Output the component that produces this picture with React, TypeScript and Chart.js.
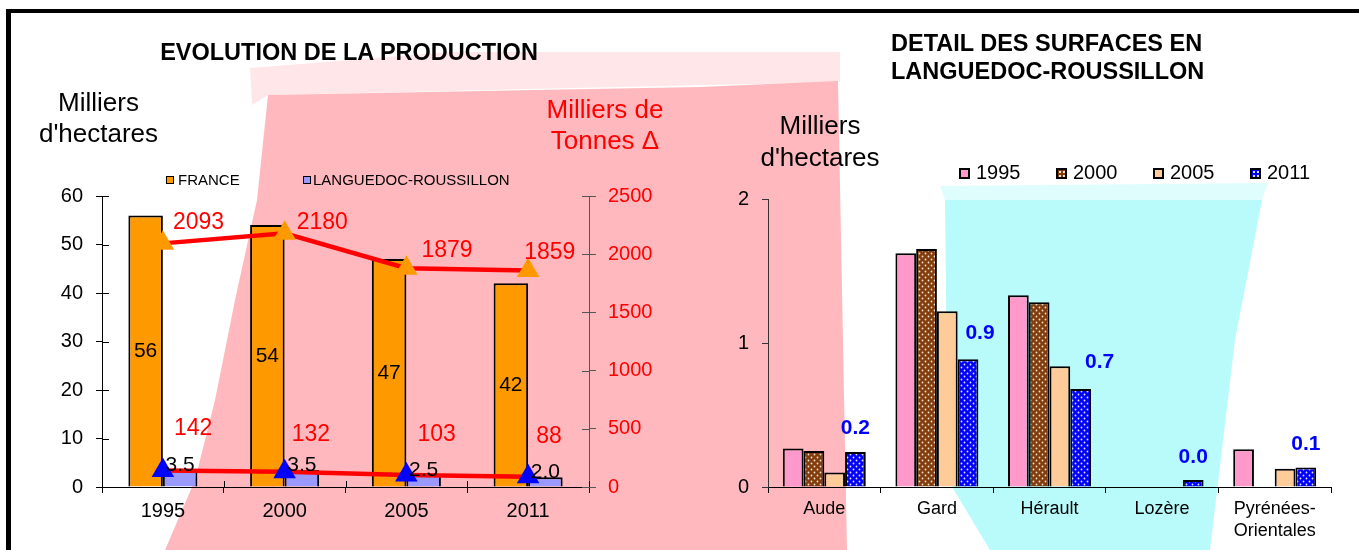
import React, { useEffect, useRef } from 'react';
import { Chart, registerables } from 'chart.js';

Chart.register(...registerables);

// ---------- Data ----------
const YEARS = ['1995', '2000', '2005', '2011'];
const FRANCE_SURFACE = [56, 54, 47, 42];
const LR_SURFACE = [3.5, 3.5, 2.5, 2.0];
const FRANCE_PRODUCTION = [2093, 2180, 1879, 1859];
const LR_PRODUCTION = [142, 132, 103, 88];
const SURFACE_TICKS = [0, 10, 20, 30, 40, 50, 60];
const PRODUCTION_TICKS = [0, 500, 1000, 1500, 2000, 2500];

const DEPARTEMENTS = ['Aude', 'Gard', 'Hérault', 'Lozère', ['Pyrénées-', 'Orientales']];
const DEPT_YEARS = ['1995', '2000', '2005', '2011'];
const DEPT_1995 = [0.267, 1.623, 1.332, null, 0.262];
const DEPT_2000 = [0.25, 1.652, 1.283, null, null];
const DEPT_2005 = [0.1, 1.22, 0.838, null, 0.126];
const DEPT_2011 = [0.243, 0.887, 0.68, 0.049, 0.136];
const DEPT_TICKS = [0, 1, 2];

// ---------- Styles ----------
const FONT = '"Liberation Sans", Arial, Helvetica, sans-serif';
const ORANGE = '#FF9900';
const LAVENDER = '#9999FF';
const RED = '#FF0000';
const BLUE = '#0000FF';
const PINK = '#FF99CC';
const BROWN = '#833C0B';
const PEACH = '#FFCC99';

const FR_LABEL_OFFSETS = [[10, -21], [12, -11], [15, -18], [-4, -18]];
const LR_LABEL_OFFSETS = [[11, -42], [7, -37], [11, -40], [8, -40]];
const DEPT_LABEL_OFFSETS = [[0, -24], [12, -26], [19, -27], [0, -23], [0, -23]];

function dotPattern(ctx: CanvasRenderingContext2D, bg: string, dot: string) {
  const c = document.createElement('canvas');
  c.width = 6;
  c.height = 6;
  const g = c.getContext('2d')!;
  g.fillStyle = bg;
  g.fillRect(0, 0, 6, 6);
  g.fillStyle = dot;
  g.beginPath();
  g.arc(1.5, 1.5, 0.9, 0, Math.PI * 2);
  g.arc(4.5, 4.5, 0.9, 0, Math.PI * 2);
  g.fill();
  return ctx.createPattern(c, 'repeat')!;
}

const innerTicksPlugin = {
  id: 'innerTicks',
  beforeDatasetsDraw(chart: any) {
    const { ctx, chartArea: a, scales } = chart;
    ctx.save();
    ctx.lineWidth = 1;
    ctx.strokeStyle = '#000';
    ctx.beginPath();
    scales.y.ticks.forEach((_: any, i: number) => {
      const p = Math.round(scales.y.getPixelForTick(i)) + 0.5;
      ctx.moveTo(a.left, p);
      ctx.lineTo(a.left + 7, p);
    });
    for (let i = 0; i <= YEARS.length; i++) {
      const px = Math.round(scales.x.getPixelForValue(i - 0.5)) + 0.5;
      ctx.moveTo(px, a.bottom);
      ctx.lineTo(px, a.bottom - 6);
    }
    ctx.stroke();
    ctx.strokeStyle = '#555';
    ctx.beginPath();
    scales.y1.ticks.forEach((_: any, i: number) => {
      const p = Math.round(scales.y1.getPixelForTick(i)) + 0.5;
      ctx.moveTo(a.right, p);
      ctx.lineTo(a.right - 7, p);
    });
    ctx.stroke();
    ctx.restore();
  },
};

const leftLabelsPlugin = {
  id: 'leftLabels',
  afterDatasetsDraw(chart: any) {
    const { ctx } = chart;
    ctx.save();
    ctx.font = `21px ${FONT}`;
    ctx.fillStyle = '#000';
    ctx.textAlign = 'center';
    ctx.textBaseline = 'middle';
    chart.getDatasetMeta(2).data.forEach((bar: any, i: number) => {
      ctx.fillText(String(FRANCE_SURFACE[i]), bar.x, (bar.y + bar.base) / 2);
    });
    ctx.textBaseline = 'alphabetic';
    chart.getDatasetMeta(3).data.forEach((bar: any, i: number) => {
      ctx.fillText(LR_SURFACE[i].toFixed(1), bar.x, bar.y + 1);
    });
    ctx.font = `23px ${FONT}`;
    ctx.fillStyle = RED;
    ctx.textAlign = 'left';
    ctx.textBaseline = 'middle';
    chart.getDatasetMeta(0).data.forEach((pt: any, i: number) => {
      const [dx, dy] = FR_LABEL_OFFSETS[i];
      ctx.fillText(String(FRANCE_PRODUCTION[i]), pt.x + dx, pt.y + dy);
    });
    chart.getDatasetMeta(1).data.forEach((pt: any, i: number) => {
      const [dx, dy] = LR_LABEL_OFFSETS[i];
      ctx.fillText(String(LR_PRODUCTION[i]), pt.x + dx, pt.y + dy);
    });
    ctx.restore();
  },
};

const rightLabelsPlugin = {
  id: 'rightLabels',
  afterDatasetsDraw(chart: any) {
    const { ctx } = chart;
    ctx.save();
    ctx.font = `bold 21px ${FONT}`;
    ctx.fillStyle = BLUE;
    ctx.textAlign = 'center';
    ctx.textBaseline = 'middle';
    chart.getDatasetMeta(3).data.forEach((bar: any, i: number) => {
      const v = DEPT_2011[i];
      if (v == null) return;
      const [dx, dy] = DEPT_LABEL_OFFSETS[i];
      ctx.fillText(v.toFixed(1), bar.x + dx, bar.y + dy);
    });
    ctx.restore();
  },
};

const abs = (s: React.CSSProperties): React.CSSProperties => ({ position: 'absolute', whiteSpace: 'nowrap', ...s });

export default function App() {
  const leftRef = useRef<HTMLCanvasElement>(null);
  const rightRef = useRef<HTMLCanvasElement>(null);

  useEffect(() => {
    Chart.defaults.font.family = FONT;
    const lctx = leftRef.current!.getContext('2d')!;
    const rctx = rightRef.current!.getContext('2d')!;

    const left = new Chart(lctx, {
      type: 'bar',
      data: {
        labels: YEARS,
        datasets: [
          {
            type: 'line',
            label: 'Production France',
            data: FRANCE_PRODUCTION,
            yAxisID: 'y1',
            borderColor: RED,
            borderWidth: 4.5,
            pointStyle: 'triangle',
            pointRadius: 13,
            pointHoverRadius: 13,
            pointBackgroundColor: ORANGE,
            pointBorderColor: ORANGE,
            pointBorderWidth: 0,
            tension: 0,
            order: 0,
          } as any,
          {
            type: 'line',
            label: 'Production Languedoc-Roussillon',
            data: LR_PRODUCTION,
            yAxisID: 'y1',
            borderColor: RED,
            borderWidth: 4.5,
            pointStyle: 'triangle',
            pointRadius: 13,
            pointHoverRadius: 13,
            pointBackgroundColor: BLUE,
            pointBorderColor: BLUE,
            pointBorderWidth: 0,
            tension: 0,
            order: 0,
          } as any,
          {
            type: 'bar',
            label: 'FRANCE',
            data: FRANCE_SURFACE,
            yAxisID: 'y',
            backgroundColor: ORANGE,
            borderColor: '#000',
            borderWidth: 2,
            categoryPercentage: 0.567,
            barPercentage: 1,
            order: 1,
          } as any,
          {
            type: 'bar',
            label: 'LANGUEDOC-ROUSSILLON',
            data: LR_SURFACE,
            yAxisID: 'y',
            backgroundColor: LAVENDER,
            borderColor: '#000',
            borderWidth: 2,
            categoryPercentage: 0.567,
            barPercentage: 1,
            order: 1,
          } as any,
        ],
      },
      options: {
        responsive: false,
        animation: false,
        devicePixelRatio: 1,
        layout: { padding: { left: 42, right: 41, top: 196, bottom: 3 } },
        plugins: { legend: { display: false }, tooltip: { enabled: false }, title: { display: false } },
        scales: {
          x: {
            grid: { offset: true, drawOnChartArea: false, tickLength: 6, color: '#000' },
            border: { color: '#000', width: 1 },
            ticks: { color: '#000', font: { size: 20 }, padding: 6, maxRotation: 0 },
            afterFit: (s: any) => { s.height = 60; },
          },
          y: {
            position: 'left',
            min: SURFACE_TICKS[0],
            max: SURFACE_TICKS[SURFACE_TICKS.length - 1],
            ticks: { stepSize: SURFACE_TICKS[1] - SURFACE_TICKS[0], color: '#000', font: { size: 20 }, padding: 13 },
            grid: { drawOnChartArea: false, tickLength: 6, color: '#000' },
            border: { color: '#000', width: 1 },
            afterFit: (s: any) => { s.width = 60; },
          },
          y1: {
            position: 'right',
            min: PRODUCTION_TICKS[0],
            max: PRODUCTION_TICKS[PRODUCTION_TICKS.length - 1],
            ticks: {
              stepSize: PRODUCTION_TICKS[1] - PRODUCTION_TICKS[0],
              color: RED,
              font: { size: 20 },
              padding: 12,
              callback: (v: any) => String(v),
            },
            grid: { drawOnChartArea: false, tickLength: 7, color: '#555' },
            border: { color: '#555', width: 1 },
            afterFit: (s: any) => { s.width = 70; },
          },
        },
      } as any,
      plugins: [innerTicksPlugin, leftLabelsPlugin],
    });

    const brown = dotPattern(rctx, BROWN, '#F2E6D9');
    const bluePat = dotPattern(rctx, BLUE, '#E6E6FF');
    const series = [DEPT_1995, DEPT_2000, DEPT_2005, DEPT_2011];
    const fills: any[] = [PINK, brown, PEACH, bluePat];

    const right = new Chart(rctx, {
      type: 'bar',
      data: {
        labels: DEPARTEMENTS as any,
        datasets: series.map((d, i) => ({
          label: DEPT_YEARS[i],
          data: d,
          backgroundColor: fills[i],
          borderColor: '#000',
          borderWidth: 2,
          categoryPercentage: 0.737,
          barPercentage: 1,
        })) as any,
      },
      options: {
        responsive: false,
        animation: false,
        devicePixelRatio: 1,
        layout: { padding: { left: 28, right: 28, top: 199, bottom: 3 } },
        plugins: { legend: { display: false }, tooltip: { enabled: false }, title: { display: false } },
        scales: {
          x: {
            grid: { offset: true, drawOnChartArea: false, tickLength: 6, color: '#000' },
            border: { color: '#000', width: 1 },
            ticks: { color: '#000', font: { size: 18, lineHeight: 1.17 }, padding: 6, maxRotation: 0 },
            afterFit: (s: any) => { s.height = 60; },
          },
          y: {
            min: DEPT_TICKS[0],
            max: DEPT_TICKS[DEPT_TICKS.length - 1],
            ticks: { stepSize: DEPT_TICKS[1] - DEPT_TICKS[0], color: '#000', font: { size: 20 }, padding: 13 },
            grid: { drawOnChartArea: false, tickLength: 6, color: '#333' },
            border: { color: '#333', width: 1 },
            afterFit: (s: any) => { s.width = 50; },
          },
        },
      } as any,
      plugins: [rightLabelsPlugin],
    });

    return () => {
      left.destroy();
      right.destroy();
    };
  }, []);

  const swatch = (bg: string, border: number, size: number, x: number, y: number, dots?: string) => (
    <div
      style={abs({
        left: x,
        top: y,
        width: size,
        height: size,
        boxSizing: 'border-box',
        border: `${border}px solid #000`,
        background: dots
          ? `radial-gradient(circle, ${dots} 0.8px, transparent 1.1px) 0 0 / 4px 4px, ${bg}`
          : bg,
      })}
    />
  );

  const legendRightFills = [PINK, BROWN, PEACH, BLUE];
  const legendRightDots = [undefined, '#F2E6D9', undefined, '#E6E6FF'];
  const legendRightX = [959, 1056, 1153, 1250];

  return (
    <div
      style={{
        position: 'absolute',
        left: 0,
        top: 0,
        width: 1359,
        height: 550,
        overflow: 'hidden',
        background: '#fff',
        fontFamily: FONT,
        color: '#000',
      }}
    >
      {/* decorative background shapes */}
      <div
        style={abs({
          left: 0, top: 0, width: 1359, height: 550,
          background: 'rgba(255,184,190,0.35)',
          clipPath: 'polygon(250px 68px, 450px 52px, 840px 52px, 840px 82px, 268px 95px, 252px 105px)',
        })}
      />
      <div
        style={abs({
          left: 0, top: 0, width: 1359, height: 550,
          background: '#FFB9BE',
          clipPath:
            'polygon(268px 95px, 700px 87px, 838px 81px, 847px 550px, 165px 550px, 195px 480px, 215px 400px, 235px 300px, 257px 200px)',
        })}
      />
      <div
        style={abs({
          left: 0, top: 0, width: 1359, height: 550,
          background: 'rgba(185,251,251,0.45)',
          clipPath: 'polygon(940px 186px, 1268px 183px, 1262px 200px, 945px 200px)',
        })}
      />
      <div
        style={abs({
          left: 0, top: 0, width: 1359, height: 550,
          background: '#B9FBFB',
          clipPath: 'polygon(945px 200px, 1262px 200px, 1235px 340px, 1210px 550px, 990px 550px, 948px 480px)',
        })}
      />

      {/* frame */}
      <div
        style={abs({
          left: 6, top: 9, width: 1400, height: 600,
          borderTop: '4px solid #000', borderLeft: '5px solid #000',
        })}
      />

      <canvas ref={leftRef} width={700} height={550} style={abs({ left: 0, top: 0 })} />
      <canvas ref={rightRef} width={669} height={550} style={abs({ left: 690, top: 0 })} />

      {/* left chart texts */}
      <div style={abs({ left: 149, width: 400, top: 37.5, textAlign: 'center', fontWeight: 'bold', fontSize: 23.5, lineHeight: '28px' })}>
        EVOLUTION DE LA PRODUCTION
      </div>
      <div style={abs({ left: 28, width: 141, top: 87, textAlign: 'center', fontSize: 26, lineHeight: '31px' })}>
        Milliers
        <br />
        d'hectares
      </div>
      <div style={abs({ left: 535, width: 140, top: 94, textAlign: 'center', fontSize: 26, lineHeight: '31px', color: RED })}>
        Milliers de
        <br />
        Tonnes Δ
      </div>
      {swatch(ORANGE, 1, 8, 166, 176)}
      <div style={abs({ left: 178, top: 172.3, fontSize: 15, lineHeight: '15px' })}>FRANCE</div>
      {swatch(LAVENDER, 1, 8, 303, 176)}
      <div style={abs({ left: 313, top: 172.3, fontSize: 15, lineHeight: '15px' })}>LANGUEDOC-ROUSSILLON</div>

      {/* right chart texts */}
      <div style={abs({ left: 891, top: 28.5, fontWeight: 'bold', fontSize: 23.5, lineHeight: '28px' })}>
        DETAIL DES SURFACES EN
        <br />
        LANGUEDOC-ROUSSILLON
      </div>
      <div style={abs({ left: 750, width: 140, top: 108.5, textAlign: 'center', fontSize: 26, lineHeight: '32px' })}>
        Milliers
        <br />
        d'hectares
      </div>
      {DEPT_YEARS.map((y, i) => (
        <React.Fragment key={y}>
          {swatch(legendRightFills[i], 2, 11, legendRightX[i], 167.5, legendRightDots[i])}
          <div style={abs({ left: legendRightX[i] + 17, top: 162.4, fontSize: 20, lineHeight: '20px' })}>{y}</div>
        </React.Fragment>
      ))}
    </div>
  );
}
